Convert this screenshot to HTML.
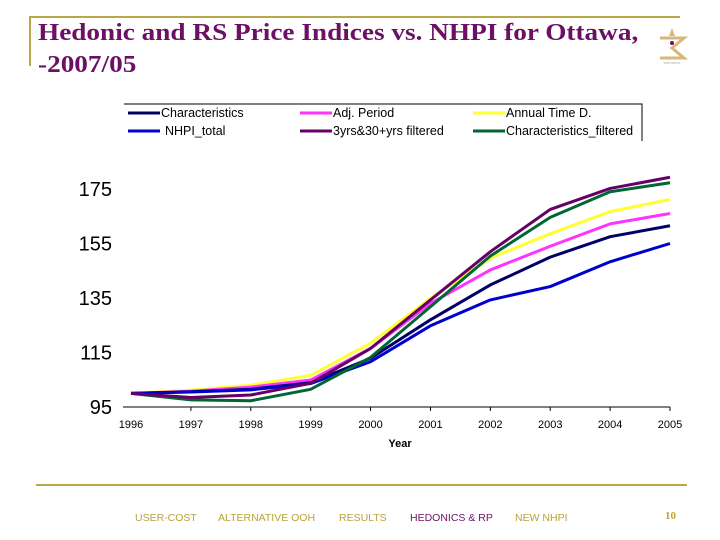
<!DOCTYPE html>
<html><head><meta charset="utf-8"><style>
body{margin:0;width:720px;height:540px;background:#fff;overflow:hidden;position:relative;font-family:"Liberation Sans",Arial,sans-serif}
.abs{position:absolute}
.title{left:38px;top:17px;font-family:"Liberation Serif",serif;font-weight:bold;font-size:24px;color:#6b1064;line-height:32px;white-space:nowrap;transform:scaleX(1.135);transform-origin:0 0}
.foot{top:512px;font-size:10.5px;color:#b8a23a;white-space:nowrap}
</style></head><body>
<div class="abs" style="left:30px;top:16px;width:650px;height:2px;background:#b8a84a"></div>
<div class="abs" style="left:29px;top:16px;width:2px;height:50px;background:#b8a84a"></div>
<div class="abs title">Hedonic and RS Price Indices vs. NHPI for Ottawa,<br>-2007/05</div>
<svg class="abs" style="left:652px;top:26px" width="40" height="40" viewBox="0 0 40 40">
<path d="M8 12 L32 12 L20 22 L32 32 L8 32" fill="none" stroke="#d8b878" stroke-width="3"/>
<path d="M20 2 L23 10 L17 10 Z" fill="#d8b878"/><circle cx="20" cy="17" r="2" fill="#6b1064"/>
<text x="20" y="38" font-size="3" text-anchor="middle" fill="#999">STATISTICS</text></svg>

<svg class="abs" style="left:0;top:0" width="720" height="540">
<g id="legend"></g>
<g id="axes"></g>
<g id="series"></g>
</svg>

<div class="abs" style="left:36px;top:484px;width:651px;height:2px;background:#b8a84a"></div>
<div class="abs foot" style="left:135px">USER-COST</div>
<div class="abs foot" style="left:218px">ALTERNATIVE OOH</div>
<div class="abs foot" style="left:339px">RESULTS</div>
<div class="abs foot" style="left:410px;color:#6b1064">HEDONICS &amp; RP</div>
<div class="abs foot" style="left:515px">NEW NHPI</div>
<div class="abs" style="left:665px;top:510px;font-family:'Liberation Serif',serif;font-weight:bold;font-size:11px;color:#b8a23a">10</div>

<script>
const years=["1996","1997","1998","1999","2000","2001","2002","2003","2004","2005"];
const yTicks=[95,115,135,155,175];
const seriesNames=["Characteristics","NHPI_total","Adj. Period","3yrs&30+yrs filtered","Annual Time D.","Characteristics_filtered"];
const characteristics=[100,100.6,101.5,103.9,112.9,127,139.8,150,157.5,161.5];
const nhpiTotal=[100,100.5,101.3,103.6,111.6,124.8,134.3,139.2,148.3,155];
const adjPeriod=[100,100.8,102.3,104.9,116.5,133,145.3,154,162.2,166];
const annualTimeD=[100,101.2,103,106.6,118.4,134.9,149.6,158.6,166.7,171.2];
const threeYrsFiltered=[100,98.5,99.4,103.7,116.5,134.3,152,167.5,175.2,179.3];
const charFiltered=[100,97.6,97.3,101.5,113.2,131.8,150.4,164.6,174,177.3];

const NS="http://www.w3.org/2000/svg";
function mk(tag,attrs,parent){const e=document.createElementNS(NS,tag);for(const k in attrs)e.setAttribute(k,attrs[k]);parent.appendChild(e);return e;}
const x=i=>131+i*(670-131)/(years.length-1);
const y=v=>407-(v-95)*(407-189)/80;
const axes=document.getElementById('axes');
const base=mk('line',{x1:123,x2:670,y1:407,y2:407,stroke:'#000','stroke-width':1},axes);


yTicks.forEach(t=>{
  const tx=mk('text',{x:112,y:y(t)+7,'text-anchor':'end','font-size':20,fill:'#000'},axes);
  tx.textContent=t;
  
  
  const tk=mk('line',{x1:109,x2:111,y1:y(t),y2:y(t),stroke:'#000'},axes);
  
  
});
years.forEach((yr,i)=>{
  const tx=mk('text',{x:x(i),y:428,'text-anchor':'middle','font-size':11,fill:'#000'},axes);
  tx.textContent=yr;
  
  
  if(i>0){const tk=mk('line',{x1:x(i),x2:x(i),y1:407,y2:411,stroke:'#000'},axes);
  
  }
});
const xt=mk('text',{x:400,y:447,'text-anchor':'middle','font-size':11,'font-weight':'bold',fill:'#000'},axes);
xt.textContent="Year";



const data=[characteristics,nhpiTotal,adjPeriod,threeYrsFiltered,annualTimeD,charFiltered];
const colors=["#000066","#0000cc","#ff33ff","#660066","#ffff33","#006633"];
const order=[4,2,0,1,5,3];
const ser=document.getElementById('series');
order.forEach(k=>{
  const p=mk('polyline',{points:data[k].map((v,i)=>x(i)+','+y(v)).join(' '),fill:'none',stroke:colors[k],'stroke-width':3,'stroke-linejoin':'round'},ser);
  
  
});

const leg=document.getElementById('legend');
mk('polyline',{points:'124,104 642,104 642,141',fill:'none',stroke:'#000','stroke-width':1},leg);
const legOrder=[[0,128,113],[2,300,113],[4,473,113],[1,128,131],[3,300,131],[5,473,131]];
legOrder.forEach(([k,lx,ly])=>{
  const ln=mk('line',{x1:lx,x2:lx+32,y1:ly,y2:ly,stroke:colors[k],'stroke-width':3},leg);
  
  
  const t=mk('text',{x:lx+(k==1?37:33),y:ly+4,'font-size':12.5,fill:'#000'},leg);
  t.textContent=seriesNames[k];
  
  
});
</script>
</body></html>
